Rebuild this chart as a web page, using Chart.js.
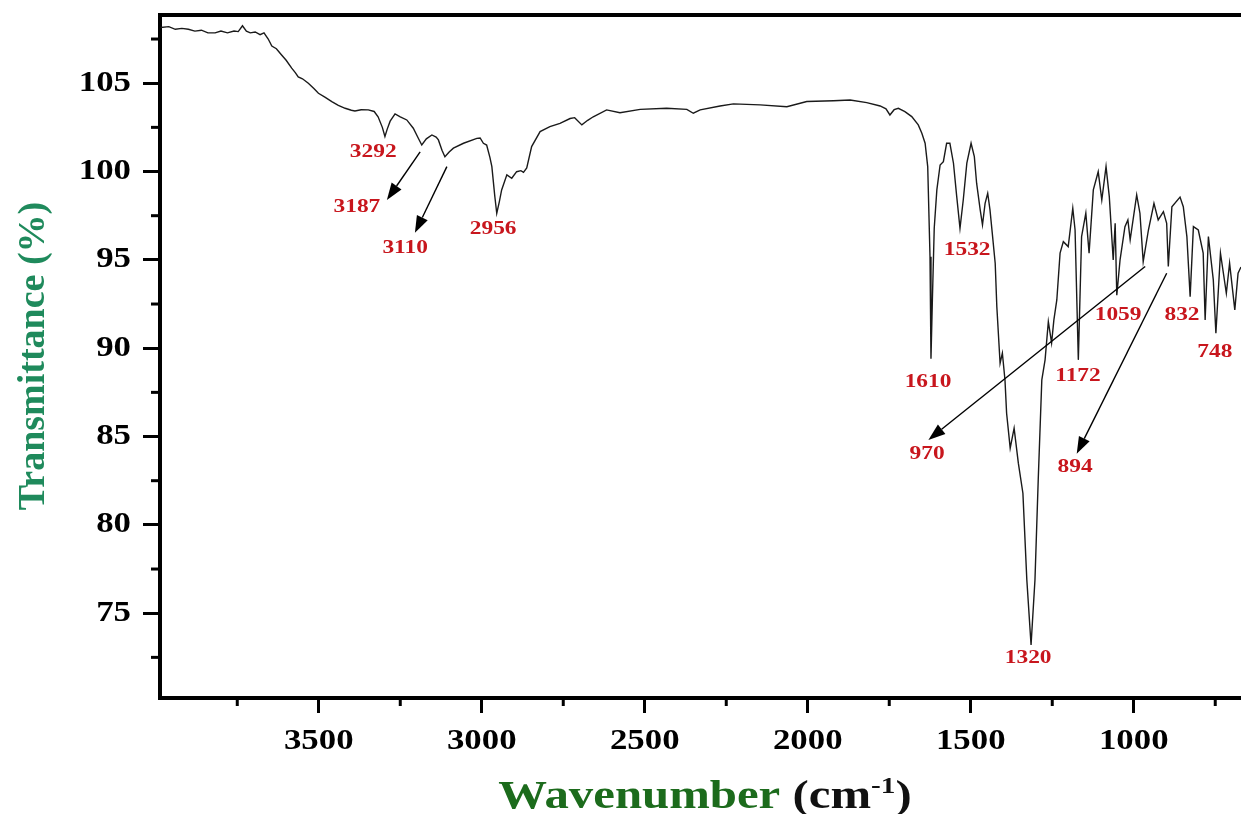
<!DOCTYPE html>
<html>
<head>
<meta charset="utf-8">
<script src="https://cdn.jsdelivr.net/npm/chart.js@4.4.1/dist/chart.umd.min.js"></script>
<style>
  html, body { margin: 0; padding: 0; background: #fff; }
  canvas { display: block; }
</style>
</head>
<body>
<canvas id="myChart" width="1241" height="814"></canvas>
<script>
// FTIR spectrum (cm-1 / %T)
const wavenumber = [
  3985, 3960, 3940, 3920, 3900, 3880, 3860, 3840, 3818, 3800, 3780, 3760, 3747, 3734, 3722, 3710,
  3695, 3680, 3668, 3655, 3644, 3630, 3614, 3600, 3583, 3572, 3563, 3550, 3532, 3515, 3501, 3480,
  3460, 3440, 3419, 3400, 3389, 3370, 3348, 3330, 3318, 3305, 3297, 3290, 3281, 3266, 3250, 3230,
  3210, 3195, 3184, 3170, 3153, 3140, 3133, 3122, 3113, 3100, 3087, 3056, 3015, 3005, 2995, 2985,
  2975, 2969, 2960, 2954, 2946, 2939, 2923, 2908, 2893, 2880, 2872, 2862, 2847, 2821, 2791, 2760,
  2729, 2715, 2693, 2675, 2658, 2617, 2576, 2514, 2433, 2371, 2351, 2330, 2269, 2228, 2146, 2064,
  2003, 1921, 1870, 1819, 1778, 1760, 1748, 1735, 1722, 1702, 1681, 1661, 1650, 1640, 1632, 1625,
  1622, 1618, 1612, 1604, 1594, 1584, 1574, 1564, 1553, 1543, 1533, 1523, 1512, 1499, 1489, 1482,
  1471, 1464, 1456, 1448, 1441, 1434, 1425, 1420, 1410, 1403, 1395, 1390, 1379, 1367, 1354, 1340,
  1328, 1315, 1303, 1293, 1282, 1272, 1262, 1252, 1245, 1236, 1226, 1216, 1201, 1187, 1180, 1170,
  1160, 1147, 1137, 1124, 1109, 1098, 1085, 1075, 1063, 1057, 1052, 1042, 1027, 1018, 1011, 991,
  981, 971, 955, 938, 925, 909, 899, 894, 883, 858, 848, 837, 827, 817, 802, 787,
  781, 771, 756, 748, 734, 716, 706, 690, 680, 671
];
const transmittance = [
  108.15, 108.2, 108.05, 108.1, 108.05, 107.95, 108.0, 107.85, 107.85, 107.95, 107.85, 107.95, 107.92, 108.25, 107.95, 107.85,
  107.9, 107.75, 107.85, 107.5, 107.1, 106.95, 106.6, 106.3, 105.85, 105.6, 105.35, 105.25, 105.0, 104.7, 104.43, 104.2,
  103.96, 103.75, 103.58, 103.47, 103.43, 103.5, 103.49, 103.4, 103.1, 102.5, 101.98, 102.4, 102.85, 103.26, 103.1, 102.92,
  102.45, 101.9, 101.5, 101.85, 102.07, 101.95, 101.79, 101.2, 100.84, 101.1, 101.32, 101.6, 101.88, 101.9, 101.6, 101.5,
  100.8, 100.28, 98.6, 97.64, 98.3, 98.96, 99.81, 99.62, 99.99, 100.05, 99.95, 100.2, 101.41, 102.26, 102.54, 102.73,
  103.0, 103.05, 102.64, 102.9, 103.1, 103.49, 103.33, 103.52, 103.58, 103.52, 103.3, 103.49, 103.71, 103.83, 103.77, 103.67,
  103.96, 104.01, 104.05, 103.9, 103.71, 103.55, 103.2, 103.5, 103.58, 103.39, 103.11, 102.64, 102.17, 101.6, 100.28, 95.18,
  89.4, 92.5, 96.8, 98.96, 100.37, 100.56, 101.6, 101.6, 100.47, 98.58, 96.79, 98.39, 100.47, 101.6, 100.84, 99.34,
  97.83, 96.98, 98.2, 98.77, 97.83, 96.51, 94.81, 92.35, 89.15, 89.72, 88.2, 86.32, 84.34, 85.47, 83.49, 81.79,
  76.89, 73.2, 76.89, 82.55, 88.21, 89.34, 91.5, 90.3, 91.6, 92.73, 95.38, 96.03, 95.75, 97.92, 96.69, 89.34,
  96.32, 97.64, 95.38, 98.96, 99.99, 98.39, 100.28, 98.58, 95.0, 97.07, 93.0, 95.0, 96.88, 97.26, 96.13, 98.68,
  97.64, 94.9, 96.69, 98.2, 97.26, 97.73, 97.07, 94.62, 98.01, 98.55, 98.01, 96.32, 92.92, 96.88, 96.69, 95.38,
  91.6, 96.32, 93.87, 90.85, 95.38, 93.11, 94.81, 92.17, 94.24, 94.6
];

// axis ticks
const xTickValues = [1000, 1500, 2000, 2500, 3000, 3500];
const yTickValues = [75, 80, 85, 90, 95, 100, 105];
const yMinorTicks = [72.5, 77.5, 82.5, 87.5, 92.5, 97.5, 102.5, 107.5];
const xMinorTicks = [750, 1250, 1750, 2250, 2750, 3250, 3750];

// peak labels (text, position of label in cm-1 / %T)
const peakText = ['3292', '3187', '3110', '2956', '1610', '1532', '1320', '970', '894', '1172', '1059', '832', '748'];
const peakWn   = [3333, 3383, 3235, 2965, 1631, 1511, 1324, 1634, 1180, 1171, 1048, 852, 751];
const peakT    = [101.1, 98.0, 95.68, 96.7, 88.09, 95.56, 72.42, 84.02, 83.28, 88.38, 91.88, 91.88, 89.79];

// arrows: start (wn, T) -> head (wn, T)
const arrowFromWn = [3189, 3107, 965, 899];
const arrowFromT  = [101.11, 100.28, 94.62, 94.24];
const arrowToWn   = [3291, 3205, 1630, 1175];
const arrowToT    = [98.39, 96.53, 84.81, 84.02];

const serif = "'Liberation Serif', 'Times New Roman', serif";

function stretchedText(ctx, txt, x, y, font, color, sx, align) {
  ctx.save();
  ctx.font = font;
  ctx.fillStyle = color;
  ctx.textAlign = align || 'center';
  ctx.textBaseline = 'middle';
  ctx.translate(x, y);
  ctx.scale(sx, 1);
  ctx.fillText(txt, 0, 0);
  ctx.restore();
}

const decorations = {
  id: 'decorations',
  afterDraw(chart) {
    const ctx = chart.ctx;
    const xs = chart.scales.x, ys = chart.scales.y;
    const area = chart.chartArea;

    // top frame line
    ctx.save();
    ctx.strokeStyle = '#000';
    ctx.lineWidth = 4;
    ctx.beginPath();
    ctx.moveTo(area.left - 2, area.top);
    ctx.lineTo(area.right, area.top);
    ctx.stroke();

    // minor ticks
    ctx.lineWidth = 3;
    yMinorTicks.forEach(v => {
      const py = ys.getPixelForValue(v);
      ctx.beginPath();
      ctx.moveTo(area.left - 9, py);
      ctx.lineTo(area.left, py);
      ctx.stroke();
    });
    xMinorTicks.forEach(w => {
      const px = xs.getPixelForValue(w);
      ctx.beginPath();
      ctx.moveTo(px, area.bottom);
      ctx.lineTo(px, area.bottom + 8);
      ctx.stroke();
    });

    // arrows
    ctx.lineWidth = 1.4;
    ctx.fillStyle = '#000';
    for (let i = 0; i < arrowFromWn.length; i++) {
      const x1 = xs.getPixelForValue(arrowFromWn[i]), y1 = ys.getPixelForValue(arrowFromT[i]);
      const x2 = xs.getPixelForValue(arrowToWn[i]), y2 = ys.getPixelForValue(arrowToT[i]);
      const ang = Math.atan2(y2 - y1, x2 - x1);
      const hl = 17, hw = 6;
      const bx = x2 - hl * Math.cos(ang), by = y2 - hl * Math.sin(ang);
      ctx.beginPath();
      ctx.moveTo(x1, y1);
      ctx.lineTo(bx, by);
      ctx.stroke();
      ctx.beginPath();
      ctx.moveTo(x2, y2);
      ctx.lineTo(bx + hw * Math.sin(ang), by - hw * Math.cos(ang));
      ctx.lineTo(bx - hw * Math.sin(ang), by + hw * Math.cos(ang));
      ctx.closePath();
      ctx.fill();
    }
    ctx.restore();

    // tick labels (bold serif, slightly wide like the source image)
    const tickFont = 'bold 29px ' + serif;
    yTickValues.forEach(v => {
      stretchedText(ctx, String(v), 131, ys.getPixelForValue(v), tickFont, '#000', 1.2, 'right');
    });
    xTickValues.forEach(w => {
      stretchedText(ctx, String(w), xs.getPixelForValue(w), area.bottom + 44, tickFont, '#000', 1.2, 'center');
    });

    // red peak labels
    for (let i = 0; i < peakText.length; i++) {
      stretchedText(ctx, peakText[i], xs.getPixelForValue(peakWn[i]), ys.getPixelForValue(peakT[i]),
        'bold 18px ' + serif, '#c8161d', 1.3);
    }

    // y title
    ctx.save();
    ctx.translate(34, 356);
    ctx.rotate(-Math.PI / 2);
    ctx.font = 'bold 38px ' + serif;
    ctx.fillStyle = '#1f8a5c';
    ctx.textAlign = 'center';
    ctx.textBaseline = 'middle';
    ctx.fillText('Transmittance (%)', 0, 0);
    ctx.restore();

    // x title: "Wavenumber" green, "(cm-1)" black
    ctx.save();
    const big = 'bold 40px ' + serif, small = 'bold 24px ' + serif;
    const sx = 1.22;
    ctx.font = big;
    const wA = ctx.measureText('Wavenumber ').width;
    const wB = ctx.measureText('(cm').width;
    const wD = ctx.measureText(')').width;
    ctx.font = small;
    const wC = ctx.measureText('-1').width;
    const total = (wA + wB + wC + wD) * sx;
    const x0 = 705 - total / 2;
    ctx.translate(x0, 808);
    ctx.scale(sx, 1);
    ctx.textBaseline = 'alphabetic';
    ctx.textAlign = 'left';
    ctx.font = big;
    ctx.fillStyle = '#1c6b1c';
    ctx.fillText('Wavenumber ', 0, 0);
    ctx.fillStyle = '#111';
    ctx.fillText('(cm', wA, 0);
    ctx.font = small;
    ctx.fillText('-1', wA + wB, -15);
    ctx.font = big;
    ctx.fillText(')', wA + wB + wC, 0);
    ctx.restore();
  }
};

const points = wavenumber.map((w, i) => ({x: w, y: transmittance[i]}));

const ctx = document.getElementById('myChart').getContext('2d');
const chart = new Chart(ctx, {
  type: 'line',
  data: {
    datasets: [{
      label: 'FTIR',
      data: points,
      borderColor: '#1a1a1a',
      borderWidth: 1.4,
      pointRadius: 0,
      tension: 0,
      fill: false
    }]
  },
  options: {
    responsive: false,
    animation: false,
    layout: { padding: { left: 143, right: 0, top: 15, bottom: 101 } },
    plugins: {
      legend: { display: false },
      tooltip: { enabled: false }
    },
    scales: {
      x: {
        type: 'linear',
        reverse: true,
        min: 671,
        max: 3987,
        afterBuildTicks: axis => { axis.ticks = xTickValues.map(v => ({value: v})); },
        border: { display: true, width: 4, color: '#000' },
        grid: { drawOnChartArea: false, drawTicks: true, tickLength: 15, tickWidth: 3, tickColor: '#000' },
        ticks: { display: false }
      },
      y: {
        min: 70.2,
        max: 108.86,
        afterBuildTicks: axis => { axis.ticks = yTickValues.map(v => ({value: v})); },
        border: { display: true, width: 4, color: '#000' },
        grid: { drawOnChartArea: false, drawTicks: true, tickLength: 17, tickWidth: 3, tickColor: '#000' },
        ticks: { display: false }
      }
    }
  },
  plugins: [decorations]
});
</script>
</body>
</html>
